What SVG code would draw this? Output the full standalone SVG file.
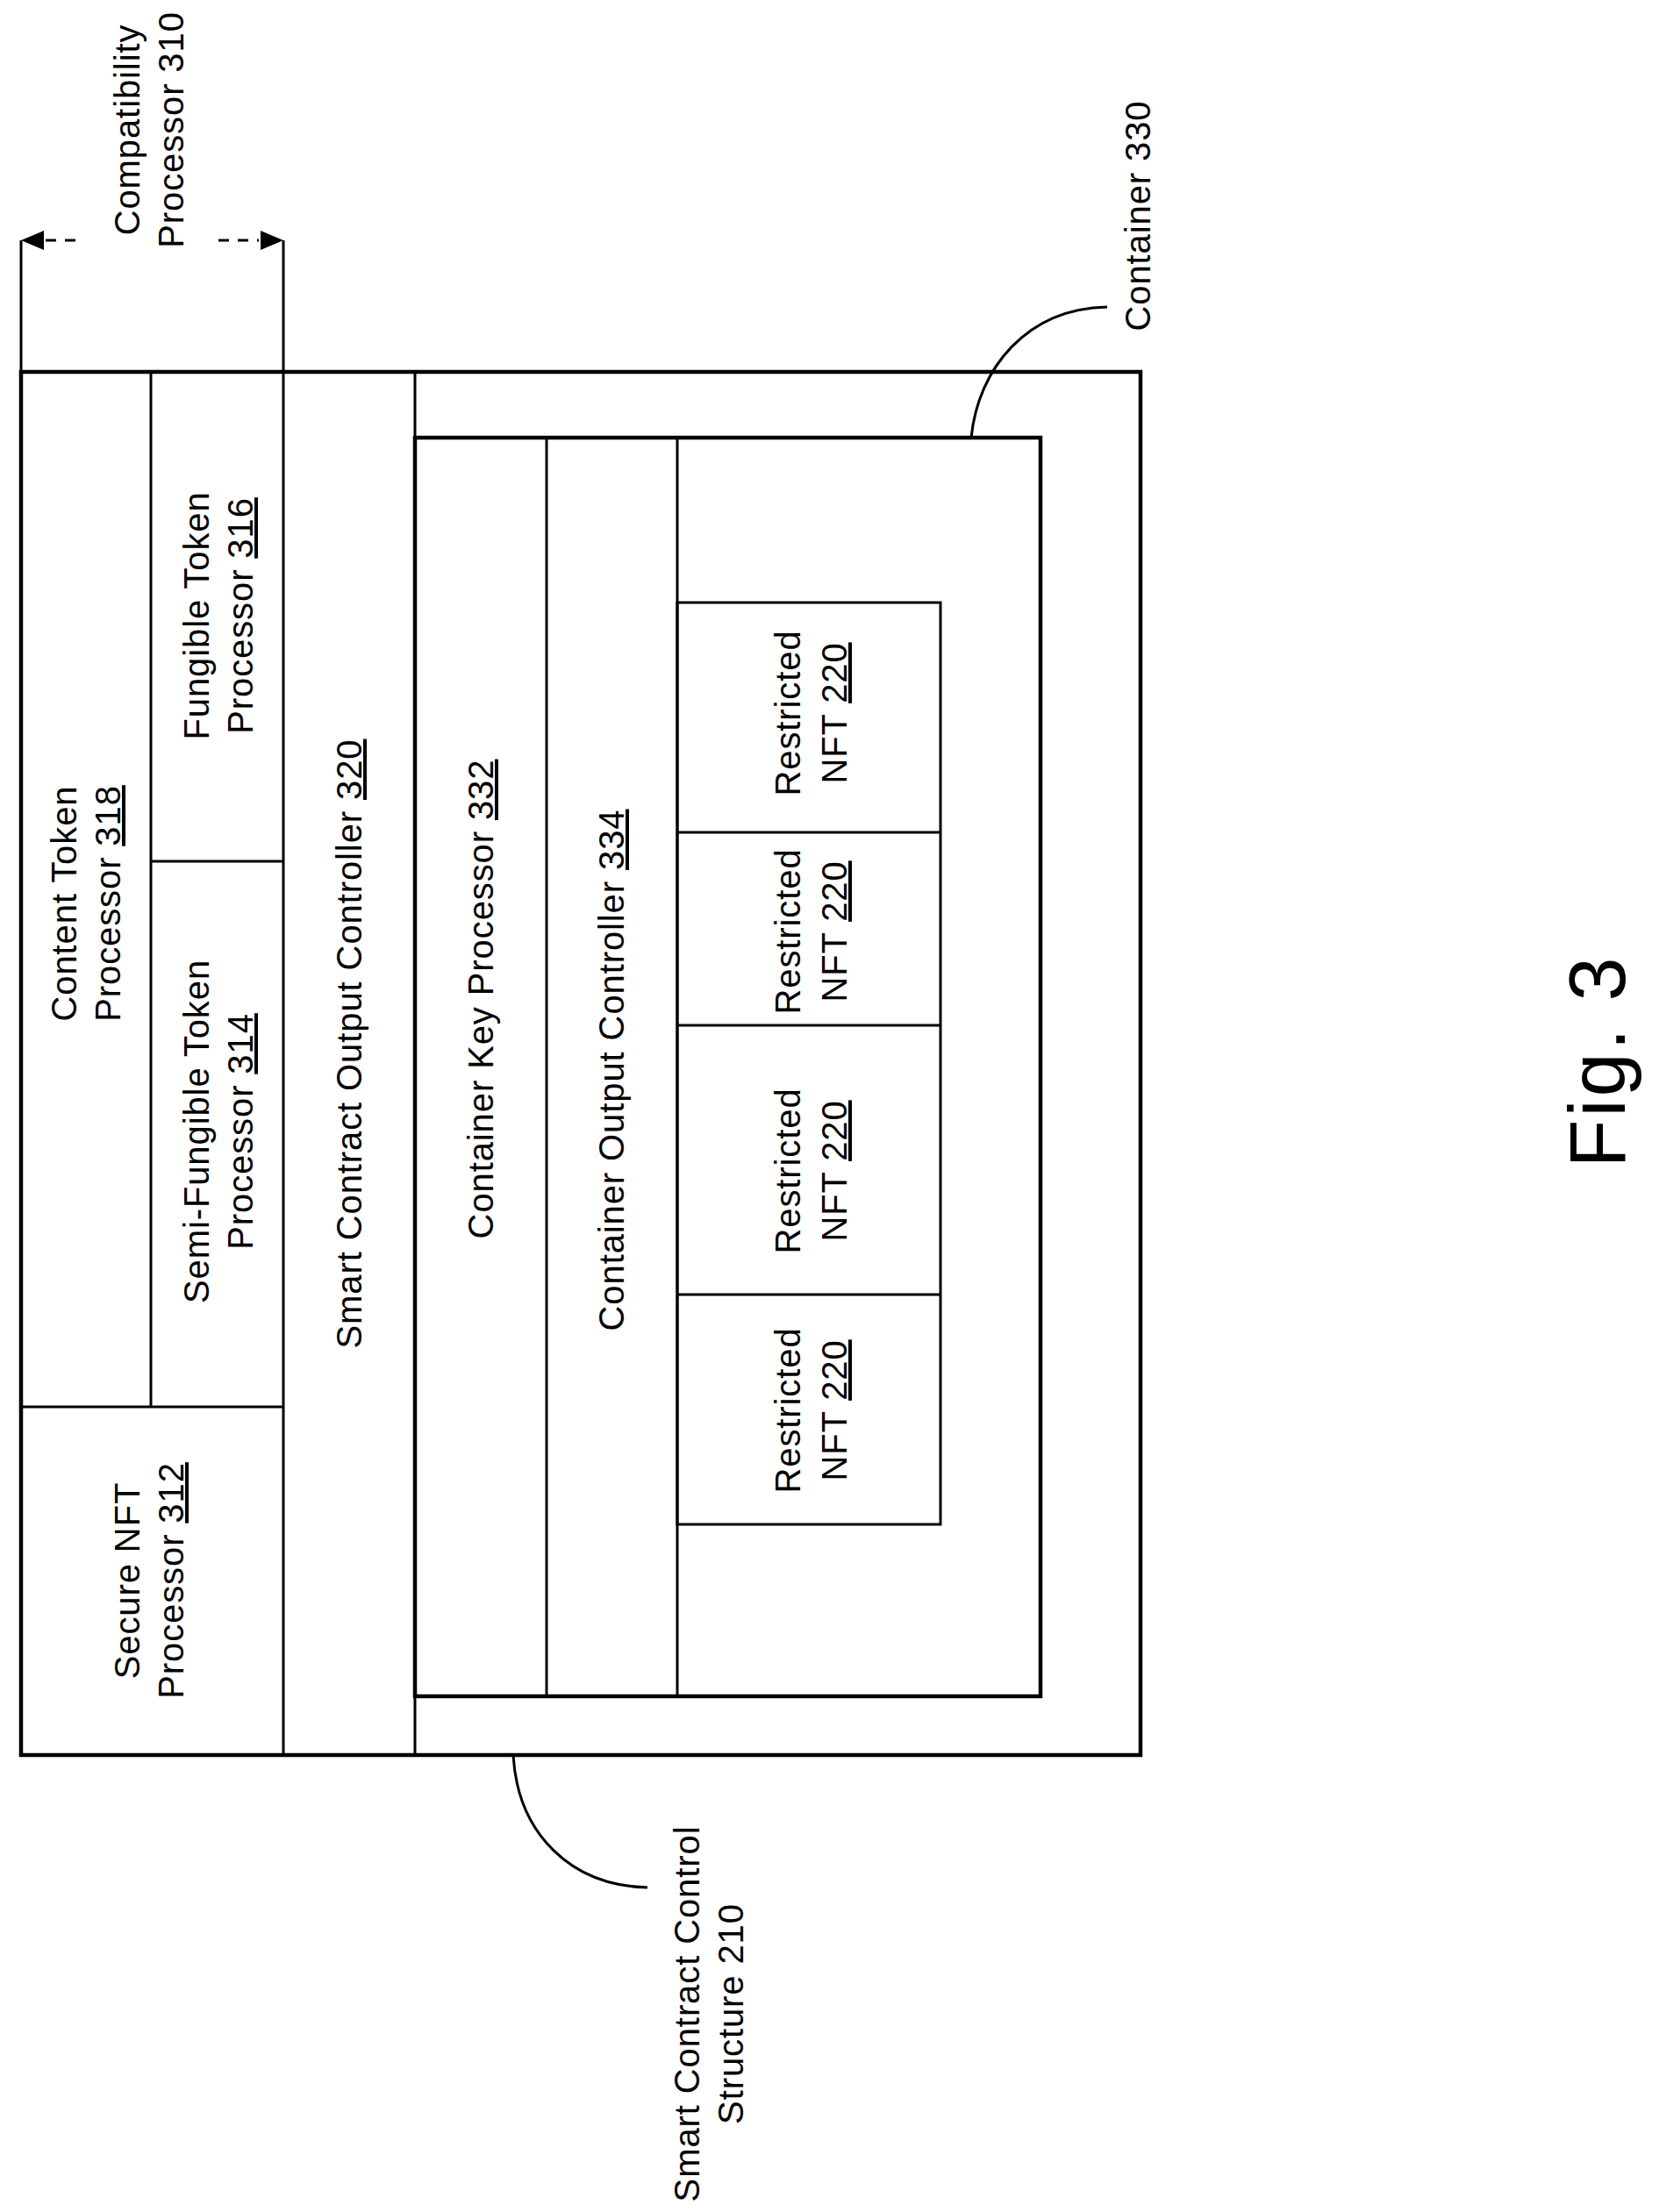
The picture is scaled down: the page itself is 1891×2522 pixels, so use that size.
<svg xmlns="http://www.w3.org/2000/svg" width="1891" height="2522" viewBox="0 0 1891 2522">
<style>
.b{fill:none;stroke:#000;stroke-width:3}
.o{fill:none;stroke:#000;stroke-width:4.5}
text{font-family:"Liberation Sans",Arial,sans-serif;font-size:40px;fill:#000;text-anchor:middle;letter-spacing:0.9px}
.u{text-decoration:underline}
.d{fill:none;stroke:#000;stroke-width:3;stroke-dasharray:12 10}
</style>
<rect width="1891" height="2522" fill="#fff"/>
<g id="smart-contract-control-structure">
<rect class="o" x="24" y="424" width="1276" height="1577"/>
</g>
<g id="content-token-processor">
<line class="b" x1="172" y1="424" x2="172" y2="1604"/>
<g transform="translate(98,1030) rotate(-90)"><text y="-11">Content Token</text><text y="39">Processor <tspan class="u">318</tspan></text></g>
</g>
<g id="compatibility-processor">
<line class="b" x1="323" y1="424" x2="323" y2="2001"/>
<line class="b" x1="24" y1="1604" x2="323" y2="1604"/>
</g>
<g id="semi-fungible-token-processor">
<line class="b" x1="172" y1="982" x2="323" y2="982"/>
<g transform="translate(249,1290) rotate(-90)"><text y="-11">Semi-Fungible Token</text><text y="39">Processor <tspan class="u">314</tspan></text></g>
</g>
<g id="fungible-token-processor">
<g transform="translate(249,702) rotate(-90)"><text y="-11">Fungible Token</text><text y="39">Processor <tspan class="u">316</tspan></text></g>
</g>
<g id="secure-nft-processor">
<g transform="translate(170,1802) rotate(-90)"><text y="-11">Secure NFT</text><text y="39">Processor <tspan class="u">312</tspan></text></g>
</g>
<g id="smart-contract-output-controller">
<line class="b" x1="473" y1="424" x2="473" y2="2001"/>
<g transform="translate(398,1190) rotate(-90)"><text y="14">Smart Contract Output Controller <tspan class="u">320</tspan></text></g>
</g>
<g id="container-330">
<rect class="o" x="473" y="499" width="713" height="1435"/>
</g>
<g id="container-key-processor">
<line class="b" x1="623" y1="499" x2="623" y2="1934"/>
<g transform="translate(548,1139) rotate(-90)"><text y="14">Container Key Processor <tspan class="u">332</tspan></text></g>
</g>
<g id="container-output-controller">
<line class="b" x1="772" y1="499" x2="772" y2="1934"/>
<g transform="translate(697,1220) rotate(-90)"><text y="14">Container Output Controller <tspan class="u">334</tspan></text></g>
</g>
<g id="restricted-nfts">
<rect class="b" x="772" y="687" width="300" height="1051"/>
<line class="b" x1="772" y1="949" x2="1072" y2="949"/>
<line class="b" x1="772" y1="1169" x2="1072" y2="1169"/>
<line class="b" x1="772" y1="1476" x2="1072" y2="1476"/>
<g transform="translate(924,813) rotate(-90)"><text y="-12">Restricted</text><text y="41">NFT <tspan class="u">220</tspan></text></g>
<g transform="translate(924,1062) rotate(-90)"><text y="-12">Restricted</text><text y="41">NFT <tspan class="u">220</tspan></text></g>
<g transform="translate(924,1335) rotate(-90)"><text y="-12">Restricted</text><text y="41">NFT <tspan class="u">220</tspan></text></g>
<g transform="translate(924,1608) rotate(-90)"><text y="-12">Restricted</text><text y="41">NFT <tspan class="u">220</tspan></text></g>
</g>
<g id="connectors">
<line class="b" x1="24" y1="424" x2="24" y2="274"/>
<line class="b" x1="323" y1="424" x2="323" y2="274"/>
<path d="M24,274 L50,263 L50,285 Z"/>
<path d="M323,274 L297,263 L297,285 Z"/>
<line class="d" x1="52" y1="274" x2="94" y2="274"/>
<line class="d" x1="249" y1="274" x2="295" y2="274"/>
<path class="b" d="M1107,499 C1115,420 1170,352 1262,350"/>
<path class="b" d="M585,2001 C590,2090 650,2150 738,2152"/>
</g>
<g id="labels">
<g transform="translate(170,148) rotate(-90)"><text y="-11">Compatibility</text><text y="39">Processor 310</text></g>
<g transform="translate(1297,246) rotate(-90)"><text y="14">Container 330</text></g>
<g transform="translate(808,2296) rotate(-90)"><text y="-11">Smart Contract Control</text><text y="39">Structure 210</text></g>
<g transform="translate(1820,1210) rotate(-90)"><text y="32" style="font-size:90px;letter-spacing:3px">Fig. 3</text></g>
</g>
</svg>
